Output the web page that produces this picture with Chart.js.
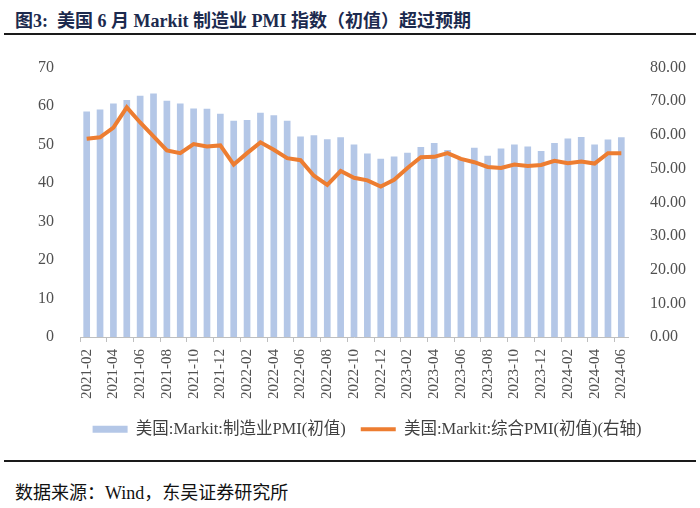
<!DOCTYPE html>
<html><head><meta charset="utf-8">
<script src="https://cdn.jsdelivr.net/npm/chart.js@4/dist/chart.umd.min.js"></script>
<style>
html,body{margin:0;padding:0;background:#fff;width:700px;height:508px;overflow:hidden;}
#title{position:absolute;left:15px;top:6px;font:bold 18px "Liberation Serif","Noto Sans CJK SC",serif;color:#1c2a4e;white-space:nowrap;}
#tl{position:absolute;left:4px;top:33px;width:692px;height:2px;background:#1a1a1a;}
#bl{position:absolute;left:4px;top:460px;width:692px;height:2px;background:#1a1a1a;}
#src{position:absolute;left:15px;top:478px;font:18px "Liberation Serif","Noto Sans CJK SC",serif;color:#111;white-space:nowrap;}
#wrap{position:absolute;left:0;top:40px;width:700px;height:415px;}
</style></head><body>
<div id="title">图3:&nbsp; 美国 6 月 Markit 制造业 PMI 指数（初值）超过预期</div>
<div id="tl"></div>
<div id="wrap"><canvas id="c"></canvas></div>
<div id="bl"></div>
<div id="src">数据来源：Wind，东吴证券研究所</div>
<script>
const categories = ["2021-02","2021-03","2021-04","2021-05","2021-06","2021-07","2021-08","2021-09","2021-10","2021-11","2021-12",
"2022-01","2022-02","2022-03","2022-04","2022-05","2022-06","2022-07","2022-08","2022-09","2022-10","2022-11","2022-12",
"2023-01","2023-02","2023-03","2023-04","2023-05","2023-06","2023-07","2023-08","2023-09","2023-10","2023-11","2023-12",
"2024-01","2024-02","2024-03","2024-04","2024-05","2024-06"];
const mfgPMI = [58.6,59.1,60.7,61.6,62.7,63.3,61.4,60.7,59.4,59.3,58.0,
56.2,56.4,58.3,57.6,56.2,52.1,52.4,51.4,51.9,50.0,47.7,46.3,
46.9,47.9,49.4,50.4,48.6,46.3,49.2,47.1,49.0,50.0,49.5,48.3,
50.4,51.6,52.0,50.0,51.3,51.9];
const compPMI = [58.9,59.3,62.2,68.2,63.7,59.6,55.4,54.6,57.3,56.6,56.9,
51.2,54.6,57.8,55.6,53.1,52.5,47.9,45.2,49.3,47.3,46.5,44.7,
46.7,50.2,53.4,53.5,54.6,52.9,51.9,50.5,50.2,51.2,50.8,51.1,
52.3,51.6,52.1,51.5,54.6,54.6];
const leftTicks = [0,10,20,30,40,50,60,70];
const rightTicks = [0,10,20,30,40,50,60,70,80];

const FONT = '"Liberation Serif","Noto Sans CJK SC",serif';
new Chart(document.getElementById('c'), {
  data: {
    labels: categories,
    datasets: [
      {type:'line', label:'美国:Markit:综合PMI(初值)(右轴)', data: compPMI, yAxisID:'y1',
       borderColor:'#ed7d31', backgroundColor:'#ed7d31', borderWidth:4, pointRadius:0, pointHoverRadius:0,
       pointStyle:'line', tension:0, order:0},
      {type:'bar', label:'美国:Markit:制造业PMI(初值)', data: mfgPMI, yAxisID:'y',
       backgroundColor:'#b4c7e7', borderWidth:0, categoryPercentage:1, barPercentage:0.5, pointStyle:'rect', order:1}
    ]
  },
  options: {
    responsive:true, maintainAspectRatio:false, animation:false,
    layout:{padding:{top:20,left:34,right:0,bottom:7.5}},
    plugins:{
      tooltip:{enabled:false},
      legend:{position:'bottom', reverse:true,
        labels:{usePointStyle:true, pointStyleWidth:35, boxHeight:7, padding:15, color:'#404040',
          font:{family:FONT,size:16.5}}}
    },
    scales:{
      x:{
        grid:{display:true, offset:true, drawOnChartArea:false, tickLength:5,
          color:(ctx)=> (ctx.index % 2 === 0 ? '#bfbfbf' : 'rgba(0,0,0,0)')},
        border:{display:true,color:'#bfbfbf'},
        ticks:{autoSkip:false, maxRotation:90, minRotation:90, padding:7, color:'#505050',
          font:{family:FONT,size:15},
          callback:function(v,i){ return i%2===0 ? categories[i] : ''; }}
      },
      y:{position:'left', min:0, max:70,
        afterBuildTicks:(s)=>{s.ticks = leftTicks.map(v=>({value:v}));},
        afterFit:(s)=>{s.width=46;},
        grid:{display:false}, border:{display:false},
        ticks:{padding:18,color:'#505050',font:{family:FONT,size:16}}
      },
      y1:{position:'right', min:0, max:80,
        afterBuildTicks:(s)=>{s.ticks = rightTicks.map(v=>({value:v}));},
        afterFit:(s)=>{s.width=72;},
        grid:{display:false}, border:{display:false},
        ticks:{padding:14,color:'#505050',font:{family:FONT,size:16},
          callback:(v)=>Number(v).toFixed(2)}
      }
    }
  }
});
</script>
</body></html>
